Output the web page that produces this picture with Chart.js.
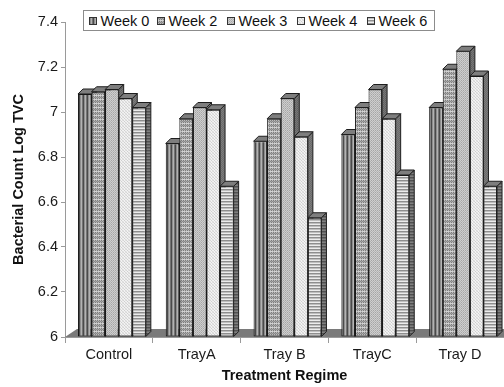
<!DOCTYPE html>
<html>
<head>
<meta charset="utf-8">
<script src="https://cdn.jsdelivr.net/npm/chart.js@4"></script>
<style>
  html, body { margin: 0; padding: 0; background: #fff; }
  #wrap { position: relative; width: 504px; height: 387px; overflow: hidden; }
  #chart { position: absolute; left: 0; top: 0; }
  #legend {
    position: absolute; left: 83px; top: 10px; width: 350px; height: 19px;
    border: 1px solid #8c8c8c; background: #fff;
    font: 14.5px "Liberation Sans", Arial, sans-serif; color: #111;
  }
  .item { position: absolute; top: 0; height: 19px; line-height: 20px; white-space: nowrap; }
  .item canvas { position: absolute; left: 0; top: 6px; }
  .item span { position: absolute; left: 11.5px; top: 0; }
</style>
</head>
<body>
<div id="wrap">
  <canvas id="chart" width="504" height="387"></canvas>
  <div id="legend"></div>
</div>
<script>
// Treatment groups and the weekly log TVC readings
const categories = ['Control', 'TrayA', 'Tray B', 'TrayC', 'Tray D'];
const seriesNames = ['Week 0', 'Week 2', 'Week 3', 'Week 4', 'Week 6'];
const week0 = [7.08, 6.86, 6.87, 6.90, 7.02];
const week2 = [7.09, 6.97, 6.97, 7.02, 7.19];
const week3 = [7.10, 7.02, 7.06, 7.10, 7.27];
const week4 = [7.06, 7.01, 6.89, 6.97, 7.16];
const week6 = [7.02, 6.67, 6.53, 6.72, 6.67];
const yTickValues = [6, 6.2, 6.4, 6.6, 6.8, 7, 7.2, 7.4];
const yTickLabels = ['6', '6.2', '6.4', '6.6', '6.8', '7', '7.2', '7.4'];

const seriesValues = [week0, week2, week3, week4, week6];

// Greyscale fill patterns, one tile per series (rows of pixel colours)
const tiles = [
  [['#4a4a4a', '#8e8e8e', '#b2b2b2', '#747474']],
  [['#7d7d7d', '#bdbdbd', '#7d7d7d', '#bdbdbd'],
   ['#a2a2a2', '#8a8a8a', '#a2a2a2', '#8a8a8a'],
   ['#7d7d7d', '#bdbdbd', '#7d7d7d', '#bdbdbd'],
   ['#d2d2d2', '#d2d2d2', '#bcbcbc', '#d2d2d2']],
  [['#a6a6a6', '#cecece'], ['#cecece', '#b4b4b4']],
  [['#d6d6d6', '#f2f2f2', '#e2e2e2'], ['#f2f2f2', '#cfcfcf', '#f0f0f0'], ['#e6e6e6', '#f2f2f2', '#d8d8d8']],
  [['#8e8e8e'], ['#bebebe'], ['#ececec']]
];
const sideTiles = [
  [['#2f2f2f', '#5a5a5a', '#6e6e6e', '#4a4a4a']],
  [['#555555', '#777777'], ['#6a6a6a', '#5e5e5e']],
  [['#5e5e5e', '#767676'], ['#767676', '#666666']],
  [['#6a6a6a', '#7c7c7c'], ['#7c7c7c', '#6a6a6a']],
  [['#505050'], ['#6a6a6a'], ['#808080']]
];

const helperCtx = document.createElement('canvas').getContext('2d');
function tileCanvas(rows) {
  const c = document.createElement('canvas');
  c.width = rows[0].length; c.height = rows.length;
  const g = c.getContext('2d');
  rows.forEach((row, y) => row.forEach((col, x) => { g.fillStyle = col; g.fillRect(x, y, 1, 1); }));
  return c;
}
const frontPatterns = tiles.map(t => helperCtx.createPattern(tileCanvas(t), 'repeat'));
const sidePatterns = sideTiles.map(t => helperCtx.createPattern(tileCanvas(t), 'repeat'));
const topFill = '#7e7e7e';

// Legend (HTML) with pattern swatches
const legendEl = document.getElementById('legend');
const legendX = [5, 73, 143, 213, 283];
seriesNames.forEach((name, i) => {
  const item = document.createElement('div');
  item.className = 'item';
  item.style.left = legendX[i] + 'px';
  const sw = document.createElement('canvas');
  sw.width = 8; sw.height = 8;
  const g = sw.getContext('2d');
  g.fillStyle = frontPatterns[i]; g.fillRect(0, 0, 8, 8);
  g.strokeStyle = '#333'; g.lineWidth = 1; g.strokeRect(0.5, 0.5, 7, 7);
  const label = document.createElement('span');
  label.textContent = name;
  item.appendChild(sw); item.appendChild(label);
  legendEl.appendChild(item);
});

const DEPTH = 5;
const FRONT_SHIFT = 3; // oblique projection: the front plane sits a little right of the axis plane
// Floor plus depth faces; bars are painted left to right so each front face
// hides the side face of the bar before it.
const bars3d = {
  id: 'bars3d',
  beforeDatasetsDraw(chart) {
    const { ctx, chartArea } = chart;
    const base = chart.scales.y.getPixelForValue(6);
    ctx.save();
    ctx.beginPath();
    ctx.moveTo(chartArea.left, base);
    ctx.lineTo(chartArea.right, base);
    ctx.lineTo(chartArea.right + 12, base - 8);
    ctx.lineTo(chartArea.left + 12, base - 8);
    ctx.closePath();
    ctx.fillStyle = '#7a7a7a';
    ctx.fill();
    ctx.restore();
  },
  beforeDatasetDraw() { return false; },
  afterDatasetsDraw(chart) {
    const { ctx } = chart;
    const d = DEPTH;
    ctx.save();
    ctx.translate(FRONT_SHIFT, 0);
    for (let k = 0; k < categories.length; k++) {
      for (let i = 0; i < seriesNames.length; i++) {
        const el = chart.getDatasetMeta(i).data[k];
        if (!el) continue;
        el.draw(ctx);
        const { x, y, width, base } = el.getProps(['x', 'y', 'width', 'base'], true);
        const l = x - width / 2, r = x + width / 2;
        ctx.save();
        ctx.lineWidth = 1;
        ctx.strokeStyle = '#1e1e1e';
        ctx.beginPath();
        ctx.moveTo(r, base); ctx.lineTo(r + d, base - d);
        ctx.lineTo(r + d, y - d); ctx.lineTo(r, y);
        ctx.closePath();
        ctx.fillStyle = sidePatterns[i]; ctx.fill(); ctx.stroke();
        ctx.beginPath();
        ctx.moveTo(l, y); ctx.lineTo(l + d, y - d);
        ctx.lineTo(r + d, y - d); ctx.lineTo(r, y);
        ctx.closePath();
        ctx.fillStyle = topFill; ctx.fill(); ctx.stroke();
        ctx.restore();
      }
    }
    ctx.restore();
  }
};

const FONT = '"Liberation Sans", Arial, sans-serif';

new Chart(document.getElementById('chart'), {
  type: 'bar',
  data: {
    labels: categories,
    datasets: seriesNames.map((name, i) => ({
      label: name,
      data: seriesValues[i],
      base: 6,
      backgroundColor: frontPatterns[i],
      borderColor: '#111',
      borderWidth: 1,
      borderSkipped: false
    }))
  },
  options: {
    responsive: false,
    animation: false,
    events: [],
    layout: { padding: { top: 22, right: 0, bottom: 0, left: 0 } },
    datasets: { bar: { categoryPercentage: 0.773, barPercentage: 1 } },
    plugins: { legend: { display: false }, tooltip: { enabled: false } },
    scales: {
      x: {
        offset: true,
        grid: { display: true, offset: true, drawOnChartArea: false, tickLength: 6, color: '#9a9a9a' },
        border: { display: true, color: '#9a9a9a' },
        ticks: { font: { family: FONT, size: 14.5 }, color: '#1a1a1a', padding: 3, maxRotation: 0 },
        title: {
          display: true, text: 'Treatment Regime', color: '#111',
          font: { family: FONT, size: 14.5, weight: 'bold' },
          padding: { top: 0, bottom: 2 }
        },
        afterFit(scale) { scale.height = 50; }
      },
      y: {
        min: 6, max: 7.4,
        afterBuildTicks(scale) { scale.ticks = yTickValues.map(v => ({ value: v })); },
        grid: { display: true, drawOnChartArea: false, tickLength: 4, color: '#9a9a9a' },
        border: { display: true, color: '#9a9a9a' },
        ticks: {
          font: { family: FONT, size: 14.5 }, color: '#1a1a1a', padding: 3,
          callback: (v, idx) => yTickLabels[idx]
        },
        title: {
          display: true, text: 'Bacterial Count Log TVC', color: '#111',
          font: { family: FONT, size: 14.5, weight: 'bold' },
          padding: { top: 10, bottom: 0 }
        },
        afterFit(scale) { scale.width = 65; }
      }
    }
  },
  plugins: [bars3d]
});
</script>
</body>
</html>
